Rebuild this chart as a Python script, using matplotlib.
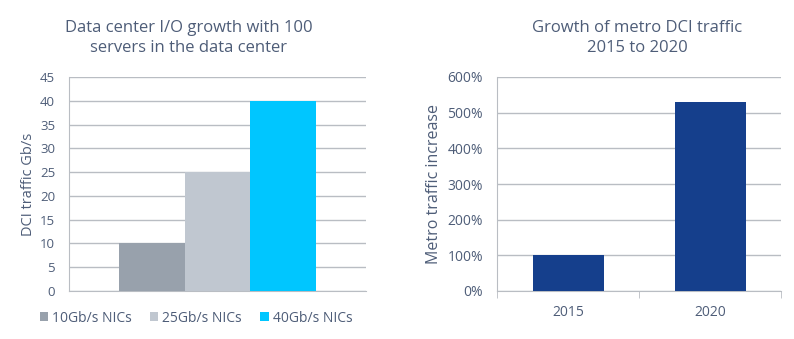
import matplotlib
matplotlib.use("Agg")
import matplotlib.pyplot as plt
from matplotlib.patches import Patch
import numpy as np

plt.rcParams['font.family'] = ['Open Sans', 'DejaVu Sans']

# Left chart data
nic_labels = ["10Gb/s NICs", "25Gb/s NICs", "40Gb/s NICs"]
nic_values = [10, 25, 40]
nic_colors = ["#98a1ac", "#c0c7d0", "#00c6ff"]
left_yticks = [0, 5, 10, 15, 20, 25, 30, 35, 40, 45]

# Right chart data
years = ["2015", "2020"]
metro_increase = [100, 530]
right_yticks = [0, 100, 200, 300, 400, 500, 600]

text_color = "#4e5d78"
grid_color = "#b9bdc3"

fig = plt.figure(figsize=(7.94, 3.39), dpi=100)

# ---------- Left chart ----------
ax1 = fig.add_axes([69/794, 1-291/339, 297/794, 214/339])
w = 0.222
offsets = [-w, 0, w]
for off, v, c in zip(offsets, nic_values, nic_colors):
    ax1.bar(off, v, width=w, color=c, zorder=3)
ax1.set_xlim(-0.5, 0.5)
ax1.set_ylim(0, 45)
ax1.set_yticks(left_yticks)
ax1.set_xticks([])
ax1.yaxis.grid(True, color=grid_color, linewidth=1, zorder=0)
ax1.set_axisbelow(True)
for s in ["top", "right"]:
    ax1.spines[s].set_visible(False)
ax1.spines["left"].set_color(grid_color)
ax1.spines["bottom"].set_color(grid_color)
ax1.tick_params(axis='y', length=0, labelsize=9.5, labelcolor=text_color, pad=10)
ax1.set_ylabel("DCI traffic Gb/s", color=text_color, fontsize=10.5, labelpad=3)

fig.text(189/794, 1-38/339, "Data center I/O growth with 100\nservers in the data center",
         ha='center', va='center', color=text_color, fontsize=12, linespacing=1.3)

handles = [Patch(facecolor=c, edgecolor='none') for c in nic_colors]
fig.legend(handles, nic_labels, loc='center', bbox_to_anchor=(196/794, 1-318/339),
           ncol=3, frameon=False, handlelength=0.6, handleheight=0.6,
           handletextpad=0.3, columnspacing=1.3, labelcolor=text_color, fontsize=10)

# ---------- Right chart ----------
ax2 = fig.add_axes([497/794, 1-291/339, 284/794, 214/339])
x = np.arange(len(years))
ax2.bar(x, metro_increase, width=0.5, color="#153f8c", zorder=3)
ax2.set_xlim(-0.5, len(years)-0.5)
ax2.set_ylim(0, 600)
ax2.set_yticks(right_yticks)
ax2.set_yticklabels([f"{t}%" for t in right_yticks])
ax2.set_xticks(x)
ax2.set_xticklabels(years)
ax2.set_xticks([-0.5, 0.5, 1.5], minor=True)
ax2.tick_params(axis='x', which='major', length=0, labelsize=10, labelcolor=text_color, pad=10)
ax2.tick_params(axis='x', which='minor', length=5, color=grid_color)
ax2.tick_params(axis='y', length=0, labelsize=10, labelcolor=text_color, pad=10)
ax2.yaxis.grid(True, color=grid_color, linewidth=1, zorder=0)
ax2.set_axisbelow(True)
for s in ["top", "right"]:
    ax2.spines[s].set_visible(False)
ax2.spines["left"].set_color(grid_color)
ax2.spines["bottom"].set_color(grid_color)
ax2.set_ylabel("Metro traffic increase", color=text_color, fontsize=11.5, labelpad=4)

fig.text(637/794, 1-38/339, "Growth of metro DCI traffic\n2015 to 2020",
         ha='center', va='center', color=text_color, fontsize=12, linespacing=1.3)

fig.savefig("out.png", dpi=100)
